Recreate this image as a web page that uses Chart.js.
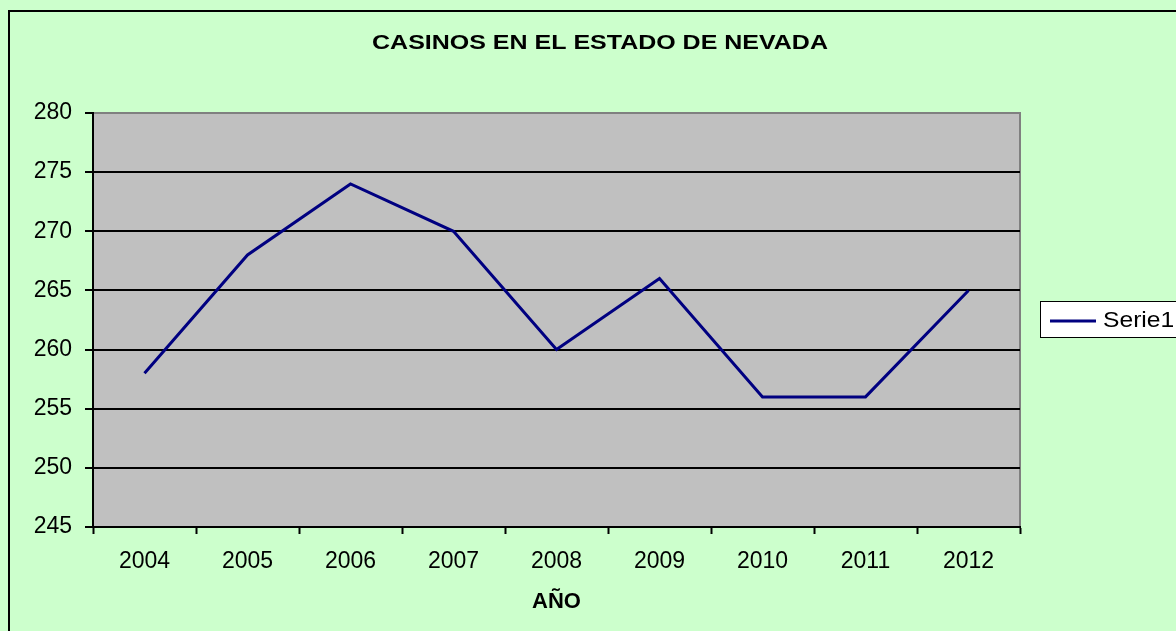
<!DOCTYPE html>
<html lang="es">
<head>
<meta charset="UTF-8">
<title>Casinos en el estado de Nevada</title>
<script src="https://cdn.jsdelivr.net/npm/chart.js"></script>
<style>
  html, body { margin: 0; padding: 0; background: #ffffff; }
  #wrap { width: 1176px; height: 631px; }
</style>
</head>
<body>
<div id="wrap"><canvas id="casinosChart" width="1176" height="631"></canvas></div>
<script>
var years = ['2004', '2005', '2006', '2007', '2008', '2009', '2010', '2011', '2012'];
var casinos = [258, 268, 274, 270, 260, 266, 256, 256, 265];
var seriesName = 'Serie1';
var chartTitle = 'CASINOS EN EL ESTADO DE NEVADA';
var xTitle = 'AÑO';

var FONT = '"Liberation Sans", Arial, sans-serif';

// text in the original looks a little wider than it is tall
function wideText(c, txt, x, y, sx) {
    c.save();
    c.translate(x, y);
    c.scale(sx, 1);
    c.fillText(txt, 0, 0);
    c.restore();
}

// green page, outer frame, grey plot area, title and legend
var decor = {
    id: 'decor',
    beforeDraw: function(chart) {
        var c = chart.ctx, a = chart.chartArea;
        c.save();
        c.fillStyle = '#ccffcc';
        c.fillRect(0, 0, chart.width, chart.height);
        c.strokeStyle = '#000';
        c.lineWidth = 2;
        c.strokeRect(9, 11, chart.width + 10, chart.height + 10);
        c.fillStyle = '#c0c0c0';
        c.fillRect(a.left, a.top, a.right - a.left, a.bottom - a.top);
        c.strokeStyle = '#808080';
        c.lineWidth = 2;
        c.beginPath();
        c.moveTo(a.left, a.top);
        c.lineTo(a.right, a.top);
        c.lineTo(a.right, a.bottom);
        c.stroke();
        c.restore();
    },
    afterDraw: function(chart) {
        var c = chart.ctx;
        c.save();
        c.fillStyle = '#000';
        c.font = 'bold 21px ' + FONT;
        c.textAlign = 'center';
        c.textBaseline = 'middle';
        wideText(c, chartTitle, 600, 43, 1.19);

        // legend
        var ds = chart.data.datasets[0];
        c.fillStyle = '#fff';
        c.fillRect(1040, 301, 140, 36);
        c.strokeStyle = '#000';
        c.lineWidth = 1;
        c.strokeRect(1040.5, 301.5, 140, 36);
        c.strokeStyle = ds.borderColor;
        c.lineWidth = 3;
        c.beginPath();
        c.moveTo(1050, 321);
        c.lineTo(1096, 321);
        c.stroke();
        c.fillStyle = '#000';
        c.font = '22px ' + FONT;
        c.textAlign = 'left';
        wideText(c, ds.label, 1103, 321, 1.12);
        c.restore();
    }
};

new Chart(document.getElementById('casinosChart'), {
    type: 'line',
    data: {
        labels: years,
        datasets: [{
            label: seriesName,
            data: casinos,
            borderColor: '#000080',
            borderWidth: 3,
            pointRadius: 0,
            tension: 0,
            fill: false
        }]
    },
    options: {
        responsive: false,
        animation: false,
        layout: { padding: { left: 0, top: 113, right: 156, bottom: 0 } },
        plugins: {
            legend: { display: false },
            tooltip: { enabled: false }
        },
        scales: {
            x: {
                offset: true,
                grid: { offset: true, drawOnChartArea: false, tickLength: 7, tickColor: '#000', tickWidth: 2 },
                border: { display: true, color: '#000', width: 2 },
                ticks: { color: '#000', font: { family: FONT, size: 23 }, padding: 14, maxRotation: 0 },
                title: { display: true, text: xTitle, color: '#000', font: { family: FONT, size: 22, weight: 'bold' }, padding: { top: 0, bottom: 16 } },
                afterFit: function(s) { s.height = 104; }
            },
            y: {
                min: 245,
                max: 280,
                ticks: { stepSize: 5, color: '#000', font: { family: FONT, size: 23 }, padding: 13 },
                grid: {
                    color: function(ctx) { return ctx.tick && ctx.tick.value === 280 ? 'rgba(0,0,0,0)' : '#000'; },
                    lineWidth: 2,
                    tickLength: 8,
                    tickColor: '#000'
                },
                border: { display: true, color: '#000', width: 2 },
                afterFit: function(s) { s.width = 93; }
            }
        }
    },
    plugins: [decor]
});
</script>
</body>
</html>
